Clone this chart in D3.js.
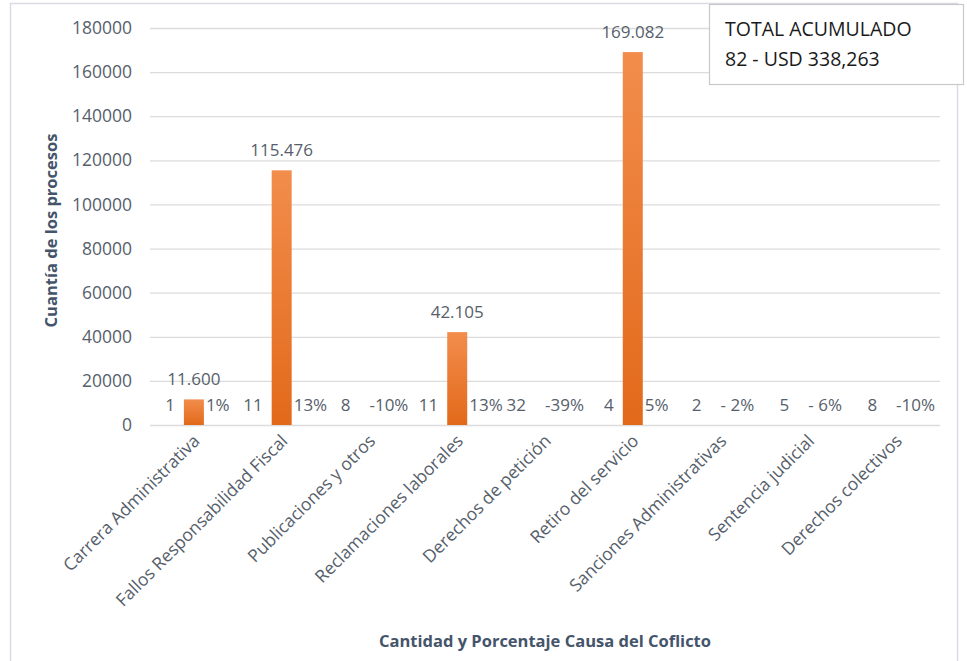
<!DOCTYPE html>
<html>
<head>
<meta charset="utf-8">
<script src="https://cdn.jsdelivr.net/npm/d3@7"></script>
<style>
body { margin: 0; background: #fff; }
text { font-family: "Open Sans", sans-serif; }
.tick text { fill: #56606b; font-size: 17.5px; }
.axisTitle { fill: #44546a; font-size: 16.5px; font-weight: bold; }
.barNum { fill: #56606b; font-size: 17px; }
</style>
</head>
<body>
<svg id="myGraph" width="967" height="661"></svg>
<script>
// data
var categories = ["Carrera Administrativa", "Fallos Responsabilidad Fiscal", "Publicaciones y otros",
  "Reclamaciones laborales", "Derechos de petición", "Retiro del servicio",
  "Sanciones Administrativas", "Sentencia judicial", "Derechos colectivos"];
var amounts = [11600, 115476, 0, 42105, 0, 169082, 0, 0, 0];
var amountLabels = ["11.600", "115.476", "", "42.105", "", "169.082", "", "", ""];
var counts = [1, 11, 8, 11, 32, 4, 2, 5, 8];
var percents = ["1%", "13%", "-10%", "13%", "-39%", "5%", "- 2%", "- 6%", "-10%"];
var yTicks = [0, 20000, 40000, 60000, 80000, 100000, 120000, 140000, 160000, 180000];
var totalLines = ["TOTAL ACUMULADO", "82 - USD 338,263"];

var svg = d3.select("#myGraph");
var plotLeft = 150, plotRight = 940, plotTop = 28, plotBottom = 425;

// outer frame
svg.append("rect")
  .attr("x", 10.5).attr("y", 3.5).attr("width", 947).attr("height", 670)
  .attr("fill", "none").attr("stroke", "#d9dce3").attr("stroke-width", 1.5);

var x = d3.scaleBand().domain(categories).range([plotLeft, plotRight]);
var y = d3.scaleLinear().domain([0, 180000]).range([plotBottom, plotTop]);

// gradient for the bars
var grad = svg.append("defs").append("linearGradient")
  .attr("id", "barGrad").attr("x1", 0).attr("y1", 0).attr("x2", 0).attr("y2", 1);
grad.append("stop").attr("offset", "0%").attr("stop-color", "#f28d4c");
grad.append("stop").attr("offset", "100%").attr("stop-color", "#e2691a");

// y axis + grid
var yAxis = svg.append("g")
  .attr("transform", "translate(" + plotLeft + ",0)")
  .call(d3.axisLeft(y).tickValues(yTicks).tickFormat(d3.format("d")).tickSize(-(plotRight - plotLeft)).tickPadding(18));
yAxis.select(".domain").remove();
yAxis.selectAll(".tick line").attr("stroke", "#dcdcdc").attr("stroke-width", 1.3);

// x axis labels
var xAxis = svg.append("g")
  .attr("transform", "translate(0," + plotBottom + ")")
  .call(d3.axisBottom(x).tickSize(0).tickPadding(0));
xAxis.select(".domain").remove();
xAxis.selectAll(".tick text")
  .attr("text-anchor", "end")
  .attr("dy", 0)
  .attr("transform", "translate(7,17) rotate(-45)");

// bars
var bw = 20;
svg.selectAll(".bar")
  .data(amounts)
  .enter()
  .append("rect")
  .attr("class", "bar")
  .attr("x", function(d, i) { return x(categories[i]) + x.bandwidth() / 2 - bw / 2; })
  .attr("y", function(d) { return y(d); })
  .attr("width", bw)
  .attr("height", function(d) { return plotBottom - y(d); })
  .attr("fill", "url(#barGrad)");

// value labels above bars
svg.selectAll(".valLabel")
  .data(amounts)
  .enter()
  .append("text")
  .attr("class", "barNum")
  .attr("text-anchor", "middle")
  .attr("x", function(d, i) { return x(categories[i]) + x.bandwidth() / 2; })
  .attr("y", function(d) { return y(d) - 14; })
  .text(function(d, i) { return amountLabels[i]; });

// count + percent row
svg.selectAll(".countLabel")
  .data(counts)
  .enter()
  .append("text")
  .attr("class", "barNum")
  .attr("text-anchor", "end")
  .attr("x", function(d, i) { return x(categories[i]) + x.bandwidth() / 2 - 19; })
  .attr("y", 411)
  .text(function(d) { return d; });

svg.selectAll(".pctLabel")
  .data(percents)
  .enter()
  .append("text")
  .attr("class", "barNum")
  .attr("x", function(d, i) { return x(categories[i]) + x.bandwidth() / 2 + (amounts[i] > 0 ? 12 : 0); })
  .attr("y", 411)
  .text(function(d) { return d; });

// axis titles
svg.append("text")
  .attr("class", "axisTitle")
  .attr("text-anchor", "middle")
  .attr("transform", "translate(57," + ((plotTop + plotBottom) / 2 + 4) + ") rotate(-90)")
  .text("Cuantía de los procesos");

svg.append("text")
  .attr("class", "axisTitle")
  .attr("text-anchor", "middle")
  .attr("x", (plotLeft + plotRight) / 2)
  .attr("y", 647)
  .text("Cantidad y Porcentaje Causa del Coflicto");

// total box
svg.append("rect")
  .attr("x", 709.5).attr("y", 4.5).attr("width", 254).attr("height", 80)
  .attr("fill", "#fff").attr("stroke", "#c8c8c8").attr("stroke-width", 1.2);
svg.selectAll(".totalText")
  .data(totalLines)
  .enter()
  .append("text")
  .attr("x", 725)
  .attr("y", function(d, i) { return 36 + i * 30; })
  .attr("fill", "#1a1a1a")
  .attr("font-size", "19.5px")
  .text(function(d) { return d; });
</script>
</body>
</html>
